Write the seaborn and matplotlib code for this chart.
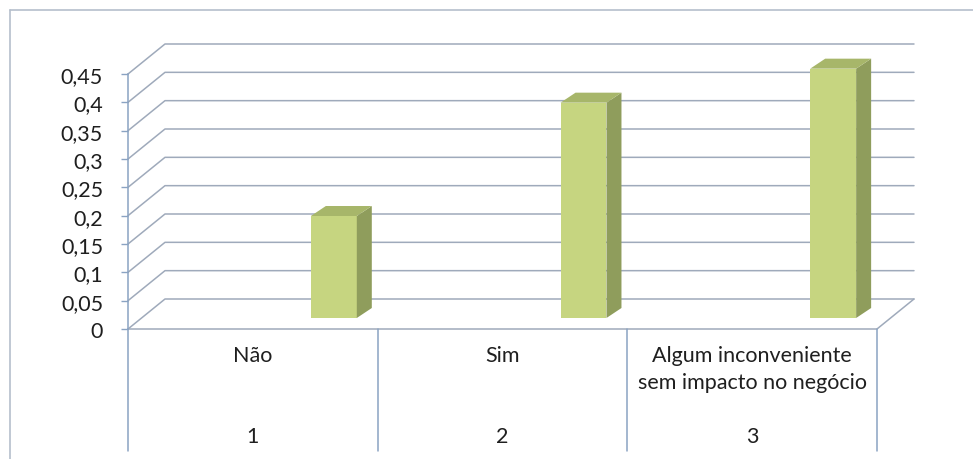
import matplotlib
matplotlib.use("Agg")
import matplotlib.pyplot as plt
import matplotlib.transforms as mtransforms
from matplotlib.patches import Polygon
from matplotlib.lines import Line2D
import pandas as pd
import seaborn as sns

# ---- data ---------------------------------------------------------------
categories = ["Não", "Sim", "Algum inconveniente\nsem impacto no negócio"]
category_numbers = ["1", "2", "3"]
shares = [0.18, 0.38, 0.44]
y_ticks = [0, 0.05, 0.10, 0.15, 0.20, 0.25, 0.30, 0.35, 0.40, 0.45]
y_tick_labels = ["0", "0,05", "0,1", "0,15", "0,2", "0,25", "0,3", "0,35", "0,4", "0,45"]

df = pd.DataFrame({"categoria": categories, "valor": shares})

# ---- style --------------------------------------------------------------
sns.set_theme(style="white")
plt.rcParams["font.family"] = ["Lato", "DejaVu Sans"]

W, H, DPI = 973, 460, 100
fig = plt.figure(figsize=(W / DPI, H / DPI), dpi=DPI)
fig.patch.set_facecolor("white")

# front plane of the 3-D box (pixel geometry of the figure)
x_left, x_right = 128, 877
y_base, y_top = 330, 75
ax = fig.add_axes([x_left / W, 1 - y_base / H,
                   (x_right - x_left) / W, (y_base - y_top) / H])
ax.set_facecolor("none")

grid_col = "#9faabb"
axis_col = "#8aa3c2"
text_col = "#1f1f1f"
face_col = "#c6d580"
top_col = "#a7b66a"
side_col = "#8f9d5c"
font_size = 15.5

# depth of the box, expressed in data units
px_per_cat = (x_right - x_left) / 3
px_per_val = (y_base - y_top) / 0.45
depth_dx = 37 / px_per_cat
depth_dy = 30 / px_per_val

# ---- bars ---------------------------------------------------------------
sns.barplot(data=df, x="categoria", y="valor", width=0.184, color=face_col,
            saturation=1, ax=ax, zorder=5, linewidth=0)
ax.set_xlim(-0.5, 2.5)
ax.set_ylim(0, 0.45)

# bars stand inside the box, moved back and to the right
bar_tr = mtransforms.offset_copy(ax.transData, fig=fig, x=81, y=11, units="dots")
side_dx = 15 / px_per_cat
side_dy = 10 / px_per_val
for patch in list(ax.patches):
    patch.set_transform(bar_tr)
    patch.set_clip_on(False)
    x, w, h = patch.get_x(), patch.get_width(), patch.get_height()
    side = Polygon([(x + w, 0), (x + w + side_dx, side_dy),
                    (x + w + side_dx, h + side_dy), (x + w, h)],
                   closed=True, facecolor=side_col, edgecolor="none",
                   transform=bar_tr, clip_on=False, zorder=5)
    top = Polygon([(x, h), (x + w, h), (x + w + side_dx, h + side_dy),
                   (x + side_dx, h + side_dy)],
                  closed=True, facecolor=top_col, edgecolor="none",
                  transform=bar_tr, clip_on=False, zorder=5)
    ax.add_patch(side)
    ax.add_patch(top)

# ---- box walls: back gridlines with their left-wall diagonals ---------------
for v in y_ticks:
    ax.plot([-0.5, -0.5 + depth_dx, 2.5 + depth_dx],
            [v, v + depth_dy, v + depth_dy],
            color=grid_col, lw=1.1, clip_on=False, zorder=1)
# floor: front edge and right edge
ax.plot([-0.5, 2.5, 2.5 + depth_dx], [0, 0, depth_dy],
        color=grid_col, lw=1.1, clip_on=False, zorder=1)

# ---- value axis -------------------------------------------------------------
for s in ["top", "right", "bottom"]:
    ax.spines[s].set_visible(False)
ax.spines["left"].set_color(axis_col)
ax.spines["left"].set_linewidth(1.1)
ax.set_yticks(y_ticks)
ax.set_yticklabels(y_tick_labels)
ax.tick_params(axis="y", which="both", left=True, length=5, width=1.0,
               color=axis_col, pad=13, labelsize=font_size, labelcolor=text_col)
ax.set_xticks([])
ax.set_xlabel("")
ax.set_ylabel("")

# ---- category table under the plot ---------------------------------------
xa = ax.get_xaxis_transform()
row_bottom = (y_base - 452) / (y_base - y_top)
for xb in [-0.5, 0.5, 1.5, 2.5]:
    ax.plot([xb, xb], [0, row_bottom], color=axis_col, lw=1.1,
            transform=xa, clip_on=False)

label_y = (y_base - 346) / (y_base - y_top)
number_y = (y_base - 437) / (y_base - y_top)
for i, (lab, num) in enumerate(zip(categories, category_numbers)):
    ax.text(i, label_y, lab, transform=xa, ha="center", va="top",
            fontsize=font_size, color=text_col, linespacing=1.45)
    ax.text(i, number_y, num, transform=xa, ha="center", va="center",
            fontsize=font_size, color=text_col)

# ---- chart-area frame ------------------------------------------------------
frame_col = "#b5bfcc"
fig.add_artist(Line2D([10 / W, 10 / W], [0, 1 - 11 / H], color=frame_col,
                      lw=1.2, transform=fig.transFigure))
fig.add_artist(Line2D([10 / W, 1], [1 - 11 / H, 1 - 11 / H], color=frame_col,
                      lw=1.2, transform=fig.transFigure))

fig.savefig("out.png", dpi=DPI, facecolor="white")
